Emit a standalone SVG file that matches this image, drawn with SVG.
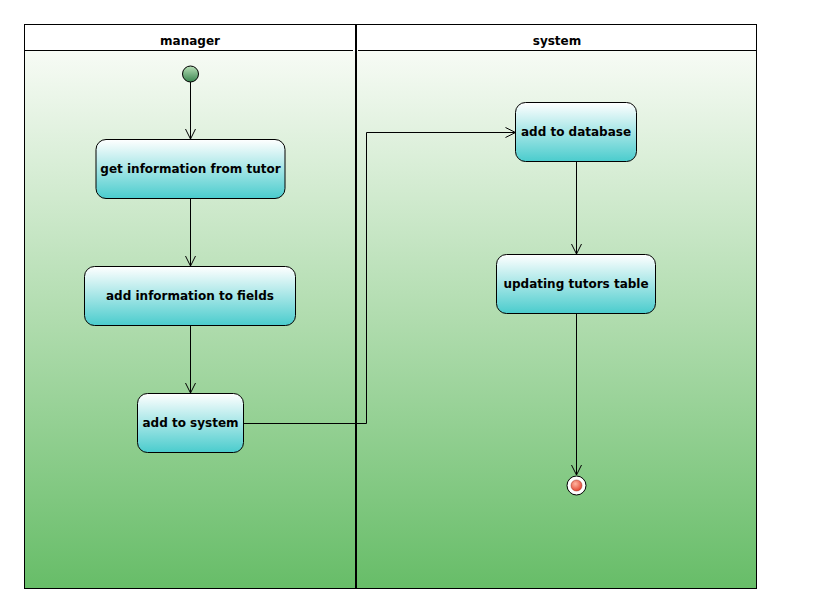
<svg xmlns="http://www.w3.org/2000/svg" width="836" height="603" viewBox="0 0 836 603">
<defs>
<linearGradient id="lane" x1="0" y1="0" x2="0" y2="1">
<stop offset="0" stop-color="#f7fbf5"/>
<stop offset="0.5" stop-color="#b0dcae"/>
<stop offset="1" stop-color="#67bd68"/>
</linearGradient>
<linearGradient id="act" x1="0" y1="0" x2="0" y2="1">
<stop offset="0" stop-color="#ffffff"/>
<stop offset="1" stop-color="#4acccd"/>
</linearGradient>
<linearGradient id="start" x1="0" y1="0" x2="0" y2="1">
<stop offset="0" stop-color="#b8e0b8"/>
<stop offset="1" stop-color="#3a8550"/>
</linearGradient>
<radialGradient id="endin" cx="0.4" cy="0.35" r="0.7">
<stop offset="0" stop-color="#ffb4a0"/>
<stop offset="1" stop-color="#e0412c"/>
</radialGradient>
<marker id="arr" markerWidth="12" markerHeight="12" viewBox="0 0 12 12" refX="11" refY="6" orient="auto" markerUnits="userSpaceOnUse">
<path d="M1,1 L11,6 L1,11" fill="none" stroke="#000" stroke-width="1"/>
</marker>
<style>
.act{fill:url(#act);stroke:#000;stroke-width:1}
.lbl{font-family:"DejaVu Sans",Verdana,sans-serif;font-weight:bold;font-size:12px;fill:#000;text-anchor:middle;dominant-baseline:central}
.hdr{font-family:"DejaVu Sans",Verdana,sans-serif;font-weight:bold;font-size:12px;fill:#000;text-anchor:middle}
.con{fill:none;stroke:#000;stroke-width:1;marker-end:url(#arr)}
</style>
</defs>
<rect x="0" y="0" width="836" height="603" fill="#ffffff"/>
<g id="lanes">
<rect x="24.5" y="50.5" width="732" height="538" fill="url(#lane)"/>
<rect x="24.5" y="24.5" width="732" height="26" fill="#ffffff"/>
<line x1="24.5" y1="50.5" x2="353" y2="50.5" stroke="#000" stroke-width="1"/>
<line x1="358" y1="50.5" x2="756.5" y2="50.5" stroke="#000" stroke-width="1"/>
<rect x="24.5" y="24.5" width="732" height="564" fill="none" stroke="#000" stroke-width="1"/>
<line x1="356" y1="24" x2="356" y2="589" stroke="#000" stroke-width="2"/>
<text class="hdr" x="190" y="45">manager</text>
<text class="hdr" x="557" y="45">system</text>
</g>
<g id="connectors">
<line class="con" x1="190.5" y1="82" x2="190.5" y2="139"/>
<line class="con" x1="190.5" y1="198" x2="190.5" y2="266"/>
<line class="con" x1="190.5" y1="325" x2="190.5" y2="393"/>
<polyline class="con" points="243,423.5 366.5,423.5 366.5,132.5 515.5,132.5"/>
<line class="con" x1="576.5" y1="161" x2="576.5" y2="254"/>
<line class="con" x1="576.5" y1="313" x2="576.5" y2="475"/>
</g>
<g id="start-node">
<circle cx="190.5" cy="74" r="8" fill="url(#start)" stroke="#000" stroke-width="1"/>
</g>
<g id="get-information">
<rect class="act" x="96" y="139.5" width="189" height="59" rx="10"/>
<text class="lbl" x="190.5" y="169">get information from tutor</text>
</g>
<g id="add-information">
<rect class="act" x="84.5" y="266.5" width="211" height="59" rx="10"/>
<text class="lbl" x="190" y="296">add information to fields</text>
</g>
<g id="add-to-system">
<rect class="act" x="137.5" y="393.5" width="106" height="59" rx="10"/>
<text class="lbl" x="190.5" y="423">add to system</text>
</g>
<g id="add-to-database">
<rect class="act" x="515.5" y="102.5" width="121" height="59" rx="10"/>
<text class="lbl" x="576" y="132">add to database</text>
</g>
<g id="updating-tutors">
<rect class="act" x="496.5" y="254.5" width="159" height="59" rx="10"/>
<text class="lbl" x="576" y="284">updating tutors table</text>
</g>
<g id="end-node">
<circle cx="576.5" cy="485.5" r="9.5" fill="#ffffff" stroke="#000" stroke-width="1"/>
<circle cx="576.5" cy="485.5" r="5.5" fill="url(#endin)" stroke="#a03020" stroke-width="0.5"/>
</g>
</svg>
